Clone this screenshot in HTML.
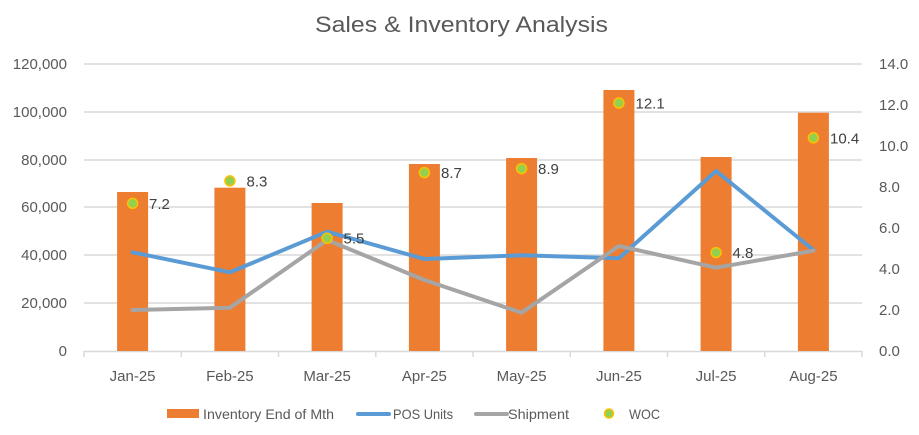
<!DOCTYPE html>
<html><head><meta charset="utf-8"><style>
html,body{margin:0;padding:0;background:#fff;}
svg{display:block;}
text{font-family:"Liberation Sans",Arial,sans-serif;fill:#595959;}
</style></head><body>
<svg width="919" height="435" viewBox="0 0 919 435" xmlns="http://www.w3.org/2000/svg">
<rect width="919" height="435" fill="#fff"/>
<text x="461.5" y="32" font-size="22" text-anchor="middle" textLength="293" lengthAdjust="spacingAndGlyphs">Sales &amp; Inventory Analysis</text>
<!-- gridlines -->
<g stroke="#d9d9d9" stroke-width="1.5">
<line x1="84" y1="64" x2="862" y2="64"/>
<line x1="84" y1="112" x2="862" y2="112"/>
<line x1="84" y1="160" x2="862" y2="160"/>
<line x1="84" y1="207" x2="862" y2="207"/>
<line x1="84" y1="255" x2="862" y2="255"/>
<line x1="84" y1="303" x2="862" y2="303"/>
<line x1="84" y1="351.5" x2="862" y2="351.5"/>
<line x1="84" y1="351" x2="84" y2="357"/>
<line x1="181.25" y1="351" x2="181.25" y2="357"/>
<line x1="278.5" y1="351" x2="278.5" y2="357"/>
<line x1="375.75" y1="351" x2="375.75" y2="357"/>
<line x1="473" y1="351" x2="473" y2="357"/>
<line x1="570.25" y1="351" x2="570.25" y2="357"/>
<line x1="667.5" y1="351" x2="667.5" y2="357"/>
<line x1="764.75" y1="351" x2="764.75" y2="357"/>
<line x1="862" y1="351" x2="862" y2="357"/>
</g>
<!-- left axis labels -->
<g font-size="15" text-anchor="end">
<text x="67" y="69">120,000</text>
<text x="67" y="117">100,000</text>
<text x="67" y="165">80,000</text>
<text x="67" y="212">60,000</text>
<text x="67" y="260">40,000</text>
<text x="67" y="308">20,000</text>
<text x="67" y="356">0</text>
</g>
<!-- right axis labels -->
<g font-size="15">
<text x="879" y="69">14.0</text>
<text x="879" y="110">12.0</text>
<text x="879" y="151">10.0</text>
<text x="879" y="192">8.0</text>
<text x="879" y="233">6.0</text>
<text x="879" y="274">4.0</text>
<text x="879" y="315">2.0</text>
<text x="879" y="356">0.0</text>
</g>
<!-- x labels -->
<g font-size="15" text-anchor="middle">
<text x="132.6" y="381">Jan-25</text>
<text x="229.9" y="381">Feb-25</text>
<text x="327.1" y="381">Mar-25</text>
<text x="424.4" y="381">Apr-25</text>
<text x="521.6" y="381">May-25</text>
<text x="618.9" y="381">Jun-25</text>
<text x="716.1" y="381">Jul-25</text>
<text x="813.4" y="381">Aug-25</text>
</g>
<!-- bars -->
<g fill="#ED7D31">
<rect x="117.1" y="192" width="31" height="159"/>
<rect x="214.4" y="187.7" width="31" height="163.3"/>
<rect x="311.6" y="203" width="31" height="148"/>
<rect x="408.9" y="164" width="31" height="187"/>
<rect x="506.1" y="158" width="31" height="193"/>
<rect x="603.4" y="90" width="31" height="261"/>
<rect x="700.6" y="157" width="31" height="194"/>
<rect x="797.9" y="112.7" width="31" height="238.3"/>
</g>
<!-- lines -->
<polyline fill="none" stroke="#5B9BD5" stroke-width="4" stroke-linejoin="round" stroke-linecap="round"
 points="132.6,252.3 229.9,272.3 327.1,231.7 424.4,259 521.6,255.3 618.9,258.3 716.1,171 813.4,250"/>
<polyline fill="none" stroke="#A5A5A5" stroke-width="4" stroke-linejoin="round" stroke-linecap="round"
 points="132.6,310 229.9,307.7 327.1,240 424.4,280 521.6,312.7 618.9,246 716.1,267.7 813.4,250.7"/>
<!-- WOC markers -->
<g fill="#92D050" stroke="#FFC000" stroke-width="1.5">
<circle cx="132.6" cy="203.4" r="5"/>
<circle cx="229.9" cy="180.9" r="5"/>
<circle cx="327.1" cy="238.3" r="5"/>
<circle cx="424.4" cy="172.6" r="5"/>
<circle cx="521.6" cy="168.6" r="5"/>
<circle cx="618.9" cy="103" r="5"/>
<circle cx="716.1" cy="252.6" r="5"/>
<circle cx="813.4" cy="137.8" r="5"/>
</g>
<g font-size="15" fill="#404040">
<text x="149" y="209" style="fill:#404040">7.2</text>
<text x="246.5" y="186.5" style="fill:#404040">8.3</text>
<text x="343.5" y="243.5" style="fill:#404040">5.5</text>
<text x="441" y="178" style="fill:#404040">8.7</text>
<text x="538" y="174" style="fill:#404040">8.9</text>
<text x="635.5" y="108.5" style="fill:#404040">12.1</text>
<text x="732.5" y="258" style="fill:#404040">4.8</text>
<text x="830" y="143.5" style="fill:#404040">10.4</text>
</g>
<!-- legend -->
<rect x="167" y="409" width="32" height="9" fill="#ED7D31"/>
<text x="203" y="419" font-size="14" textLength="131" lengthAdjust="spacingAndGlyphs">Inventory End of Mth</text>
<line x1="358" y1="414" x2="389" y2="414" stroke="#5B9BD5" stroke-width="4" stroke-linecap="round"/>
<text x="393" y="419" font-size="14" textLength="60" lengthAdjust="spacingAndGlyphs">POS Units</text>
<line x1="476" y1="414" x2="507" y2="414" stroke="#A5A5A5" stroke-width="4" stroke-linecap="round"/>
<text x="508" y="419" font-size="14" textLength="61" lengthAdjust="spacingAndGlyphs">Shipment</text>
<circle cx="609" cy="413.5" r="4.5" fill="#92D050" stroke="#FFC000" stroke-width="1.5"/>
<text x="629" y="419" font-size="14" textLength="31" lengthAdjust="spacingAndGlyphs">WOC</text>
</svg>
</body></html>
